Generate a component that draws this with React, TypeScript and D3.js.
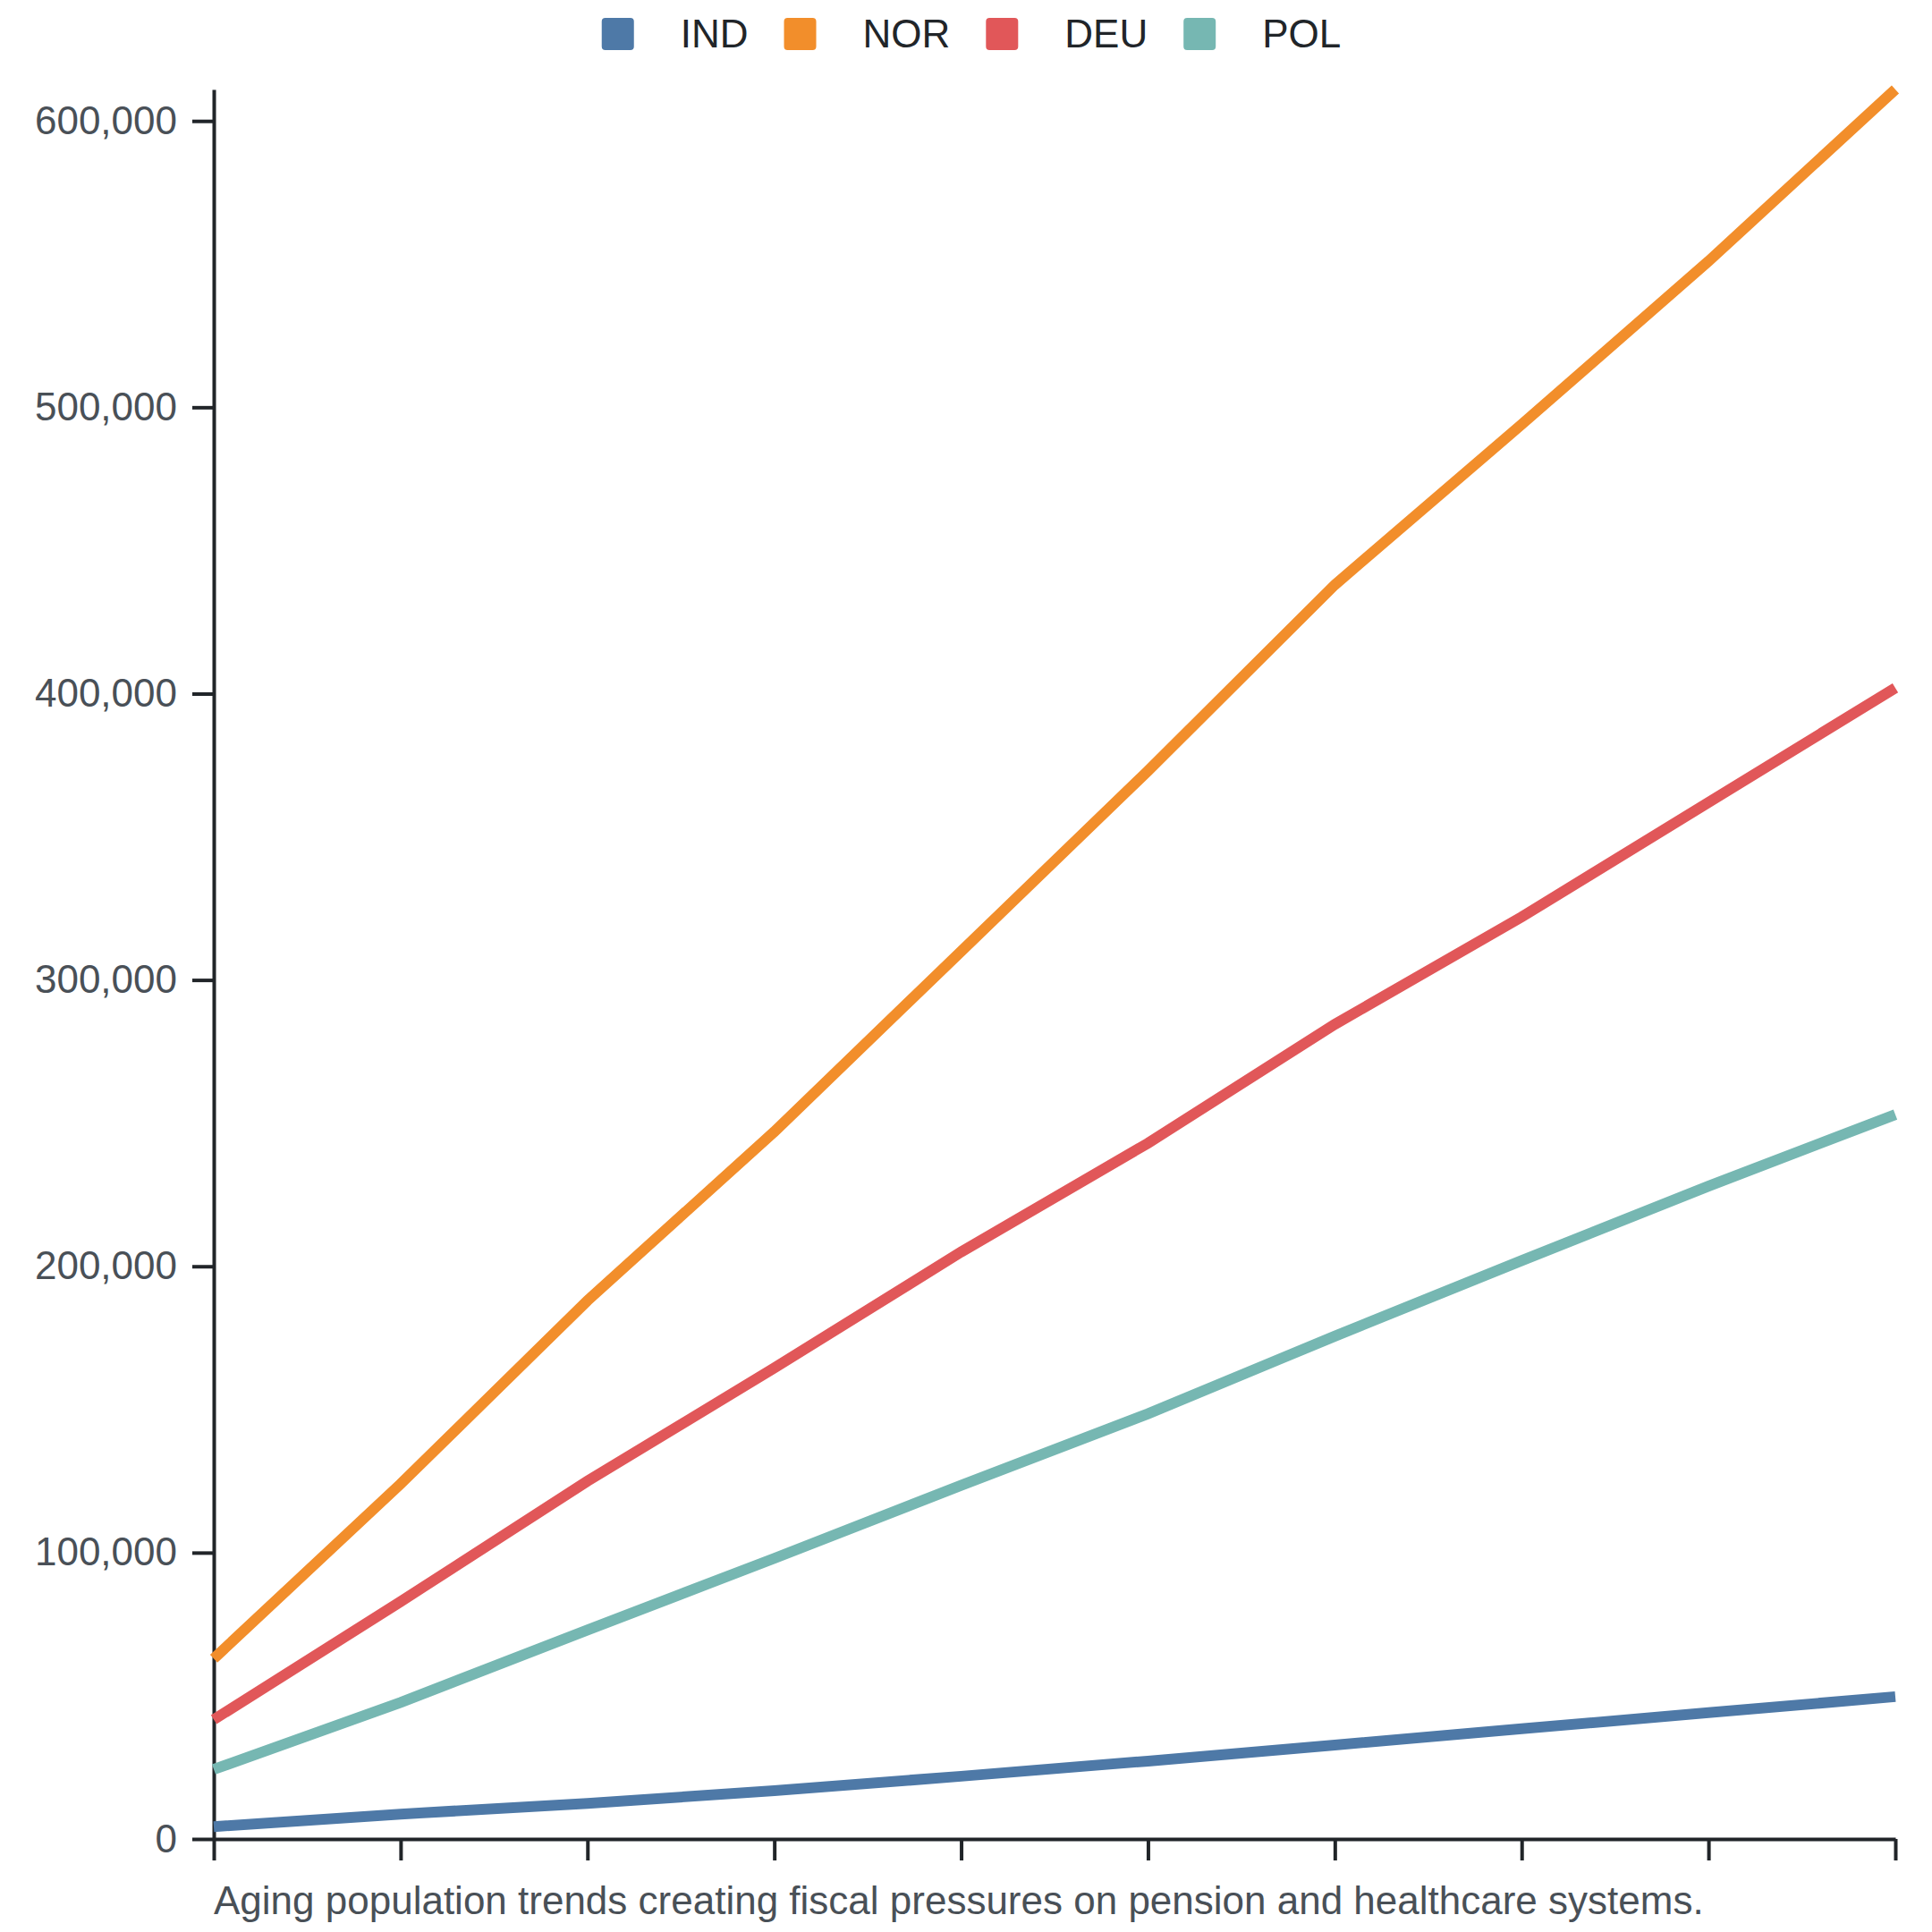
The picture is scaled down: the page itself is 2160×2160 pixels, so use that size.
import React, { useEffect, useRef } from 'react';
import * as d3 from 'd3';

const years: string[] = ['2015', '2016', '2017', '2018', '2019', '2020', '2021', '2022', '2023', '2024'];
const seriesNames: string[] = ['IND', 'NOR', 'DEU', 'POL'];
const seriesColors: string[] = ['#4e79a7', '#f28e2b', '#e15759', '#76b7b2'];

const IND: number[] = [4300, 8700, 12400, 16900, 21900, 27200, 32800, 38500, 44100, 49700];
const NOR: number[] = [63000, 124000, 188000, 247000, 310000, 373000, 438000, 494000, 551000, 611000];
const DEU: number[] = [41700, 82900, 125000, 164500, 205000, 243000, 284500, 322000, 362000, 402000];
const POL: number[] = [24300, 47700, 73000, 98000, 123500, 148500, 175600, 202000, 228000, 253000];

const yTicks: number[] = [0, 100000, 200000, 300000, 400000, 500000, 600000];
const caption = 'Aging population trends creating fiscal pressures on pension and healthcare systems.';

const FONT = '"Liberation Sans", Arial, Helvetica, sans-serif';

const LineChart: React.FC = () => {
  const svgRef = useRef<SVGSVGElement>(null);

  useEffect(() => {
    if (!svgRef.current) return;
    document.body.style.margin = '0';

    const W = 2160;
    const H = 2160;
    const margin = { top: 100, right: 41, bottom: 104, left: 239 };
    const width = W - margin.left - margin.right;
    const height = H - margin.top - margin.bottom;

    const series = [IND, NOR, DEU, POL].map((values, i) => ({
      name: seriesNames[i],
      color: seriesColors[i],
      values,
    }));

    const svg = d3.select(svgRef.current);
    svg.selectAll('*').remove();
    svg.attr('width', W).attr('height', H).style('display', 'block');

    const x = d3.scalePoint<string>().domain(years).range([0, width]);
    const y = d3
      .scaleLinear()
      .domain([0, d3.max(series, s => d3.max(s.values)!)!])
      .range([height, 0]);

    const g = svg.append('g').attr('transform', `translate(${margin.left},${margin.top})`);

    // y axis
    const yAxis = g
      .append('g')
      .call(
        d3
          .axisLeft(y)
          .tickValues(yTicks)
          .tickFormat(d3.format(','))
          .tickSize(24)
          .tickSizeOuter(0)
          .tickPadding(17)
      );
    yAxis.select('.domain').attr('stroke', '#212529').attr('stroke-width', 4);
    yAxis.selectAll('.tick line').attr('stroke', '#212529').attr('stroke-width', 4);
    yAxis
      .selectAll('.tick text')
      .attr('fill', '#495057')
      .style('font-family', FONT)
      .style('font-size', '44px');

    // x axis (no labels)
    const xAxis = g
      .append('g')
      .attr('transform', `translate(0,${height})`)
      .call(d3.axisBottom(x).tickSize(24).tickSizeOuter(0).tickFormat(() => ''));
    xAxis.select('.domain').attr('stroke', '#212529').attr('stroke-width', 4);
    xAxis.selectAll('.tick line').attr('stroke', '#212529').attr('stroke-width', 4);

    // lines
    const line = d3
      .line<number>()
      .x((_, i) => x(years[i])!)
      .y(d => y(d));

    g.selectAll('.series')
      .data(series)
      .join('path')
      .attr('class', 'series')
      .attr('fill', 'none')
      .attr('stroke', d => d.color)
      .attr('stroke-width', 12)
      .attr('d', d => line(d.values));

    // legend
    const legend = svg.append('g');
    const items = legend
      .selectAll('g')
      .data(series)
      .join('g');
    items
      .append('rect')
      .attr('y', 20)
      .attr('width', 36)
      .attr('height', 36)
      .attr('rx', 4)
      .attr('fill', d => d.color);
    items
      .append('text')
      .attr('x', 88)
      .attr('y', 53)
      .attr('fill', '#212529')
      .style('font-family', FONT)
      .style('font-size', '44px')
      .text(d => d.name);

    const gap = 40;
    let cursor = 0;
    const offsets: number[] = [];
    items.each(function () {
      offsets.push(cursor);
      const t = d3.select(this).select('text').node() as SVGTextElement;
      cursor += 88 + t.getComputedTextLength() + gap;
    });
    const totalW = cursor - gap;
    const start = 1086 - totalW / 2;
    items.attr('transform', (_, i) => `translate(${start + offsets[i]},0)`);

    // caption
    svg
      .append('text')
      .attr('x', margin.left)
      .attr('y', 2140)
      .attr('fill', '#495057')
      .style('font-family', FONT)
      .style('font-size', '44px')
      .text(caption);
  }, []);

  return <svg ref={svgRef}></svg>;
};

const App = () => {
  return (
    <div style={{ width: '2160px', height: '2160px', background: '#fff' }}>
      <LineChart />
    </div>
  );
};

export default App;
